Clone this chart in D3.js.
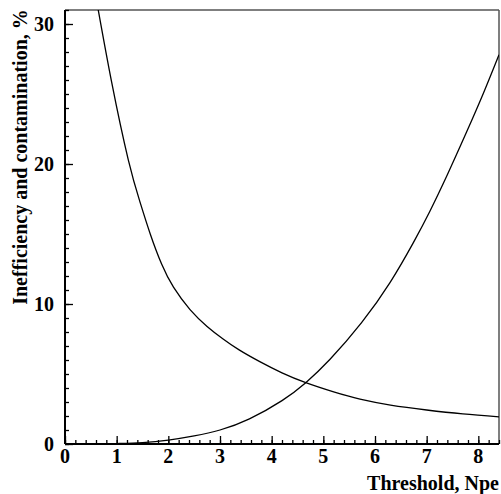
<!DOCTYPE html>
<html>
<head>
<meta charset="utf-8">
<script src="https://cdn.jsdelivr.net/npm/d3@7"></script>
<style>
  html, body { margin: 0; padding: 0; background: #fff; }
</style>
</head>
<body>
<svg id="chart" width="501" height="494"></svg>
<script>
// Threshold (photoelectrons) and the two curves, in %
const thresholdIneff = [0.8, 1.0, 1.5, 2.0, 2.5, 3.0, 3.57, 4.2, 4.66, 5.13, 5.74, 6.29, 6.74, 7.06, 7.4, 7.77, 8.1, 8.4];
const inefficiency   = [0.0, 0.03, 0.1, 0.28, 0.58, 1.0, 1.8, 3.1, 4.38, 6.05, 8.67, 11.53, 14.37, 16.61, 19.23, 22.26, 25.07, 27.8];

const thresholdCont  = [0.6, 0.9, 1.225, 1.45, 1.65, 1.87, 2.1, 2.42, 2.75, 3.06, 3.37, 3.77, 4.2, 4.66, 5.2, 5.71, 6.3, 7.0, 7.7, 8.4];
const contamination  = [31.9, 25.9, 20.3, 17.3, 15.0, 12.85, 11.2, 9.6, 8.4, 7.5, 6.72, 5.88, 5.08, 4.38, 3.72, 3.2, 2.78, 2.43, 2.15, 1.94];

const xMajorTicks = [0, 1, 2, 3, 4, 5, 6, 7, 8];
const yMajorTicks = [0, 10, 20, 30];

const xLabel = "Threshold, Npe";
const yLabel = "Inefficiency and contamination, %";

const FONT = "'Liberation Serif', 'Times New Roman', Times, 'DejaVu Serif', serif";

const svg = d3.select("#chart");
const plotL = 65, plotR = 499, plotT = 10, plotB = 444;

const x = d3.scaleLinear().domain([0, 8.4]).range([plotL, plotR]);
const y = d3.scaleLinear().domain([0, 31]).range([plotB, plotT]);

// plot clip
svg.append("clipPath").attr("id", "plotClip")
  .append("rect").attr("x", plotL).attr("y", plotT).attr("width", plotR - plotL).attr("height", plotB - plotT);

// frame: top and right
svg.append("line").attr("x1", plotL).attr("x2", plotR).attr("y1", plotT).attr("y2", plotT)
  .attr("stroke", "#555").attr("stroke-width", 1.5);
svg.append("line").attr("x1", plotR).attr("x2", plotR).attr("y1", plotT).attr("y2", plotB)
  .attr("stroke", "#555").attr("stroke-width", 1.5);

// minor and major ticks, pointing inward
const xMinor = d3.range(0, 8.41, 0.2).map(v => +v.toFixed(1));
const yMinor = d3.range(0, 31.01, 1);

const xAxisMinor = d3.axisTop(x).tickValues(xMinor).tickSize(4).tickFormat("");
const xAxisMajor = d3.axisTop(x).tickValues(xMajorTicks).tickSize(8).tickFormat("");
const yAxisMinor = d3.axisRight(y).tickValues(yMinor).tickSize(4).tickFormat("");
const yAxisMajor = d3.axisRight(y).tickValues(yMajorTicks).tickSize(8).tickFormat("");

function styleAxis(g) {
  g.select(".domain").remove();
  g.selectAll(".tick line").attr("stroke", "#000").attr("stroke-width", 1.3);
}
svg.append("g").attr("transform", `translate(0,${plotB})`).call(xAxisMinor).call(styleAxis);
svg.append("g").attr("transform", `translate(0,${plotB})`).call(xAxisMajor).call(styleAxis);
svg.append("g").attr("transform", `translate(${plotL},0)`).call(yAxisMinor).call(styleAxis);
svg.append("g").attr("transform", `translate(${plotL},0)`).call(yAxisMajor).call(styleAxis);

// left and bottom axis lines
svg.append("line").attr("x1", plotL).attr("x2", plotR).attr("y1", plotB).attr("y2", plotB)
  .attr("stroke", "#000").attr("stroke-width", 2);
svg.append("line").attr("x1", plotL).attr("x2", plotL).attr("y1", plotT).attr("y2", plotB)
  .attr("stroke", "#000").attr("stroke-width", 2);

// tick labels
svg.append("g").selectAll("text").data(xMajorTicks).join("text")
  .attr("x", d => x(d)).attr("y", 463)
  .attr("text-anchor", "middle")
  .attr("font-family", FONT).attr("font-weight", "bold").attr("font-size", 20)
  .text(d => d);
svg.append("g").selectAll("text").data(yMajorTicks).join("text")
  .attr("x", 54).attr("y", d => y(d) + 7)
  .attr("text-anchor", "end")
  .attr("font-family", FONT).attr("font-weight", "bold").attr("font-size", 20)
  .text(d => d);

// axis titles
svg.append("text").attr("x", 499).attr("y", 490)
  .attr("text-anchor", "end")
  .attr("font-family", FONT).attr("font-weight", "bold").attr("font-size", 20)
  .text(xLabel);
svg.append("text")
  .attr("transform", "translate(27,157) rotate(-90)")
  .attr("text-anchor", "middle")
  .attr("font-family", FONT).attr("font-weight", "bold").attr("font-size", 20)
  .text(yLabel);

// curves (smooth natural splines through the sampled points)
const line = d3.line().x(d => x(d[0])).y(d => y(d[1])).curve(d3.curveNatural);
const plot = svg.append("g").attr("clip-path", "url(#plotClip)");
plot.append("path")
  .datum(d3.zip(thresholdIneff, inefficiency))
  .attr("d", line).attr("fill", "none").attr("stroke", "#000").attr("stroke-width", 1.3);
plot.append("path")
  .datum(d3.zip(thresholdCont, contamination))
  .attr("d", line).attr("fill", "none").attr("stroke", "#000").attr("stroke-width", 1.3);
</script>
</body>
</html>
